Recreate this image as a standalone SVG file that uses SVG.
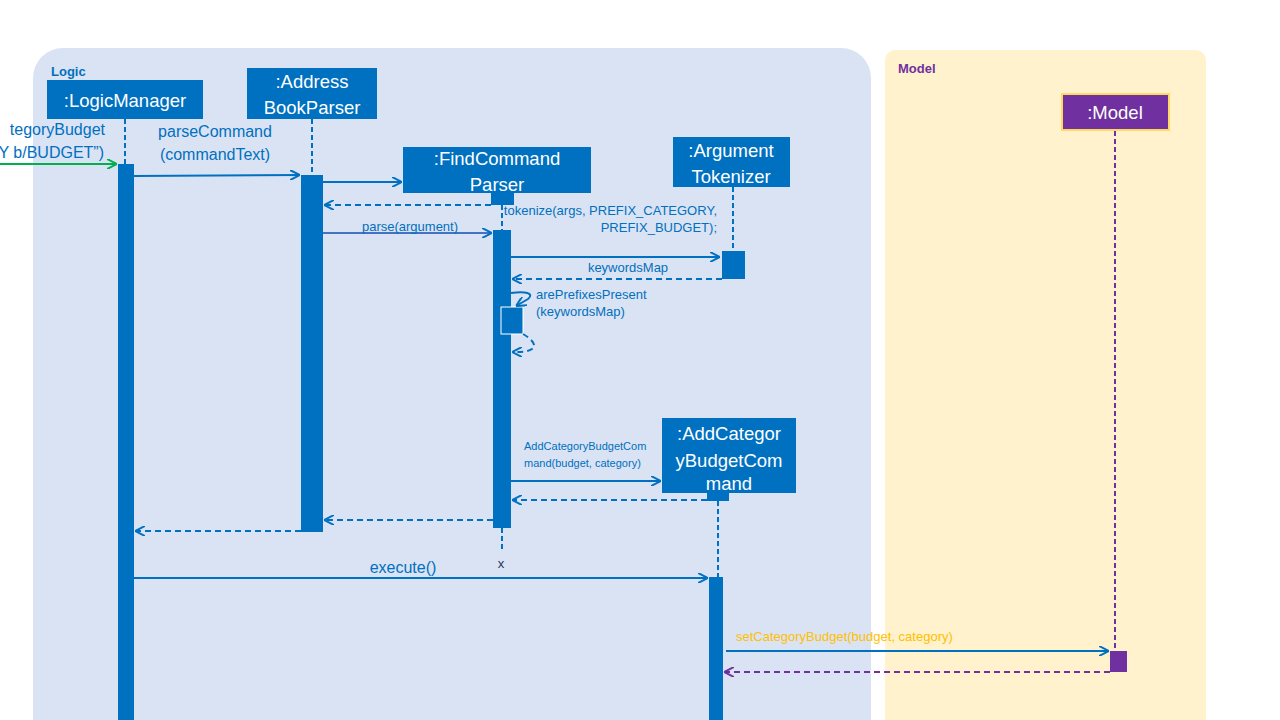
<svg xmlns="http://www.w3.org/2000/svg" width="1280" height="720" viewBox="0 0 1280 720">
<defs>
<style>
.box{fill:#0070c0}
.act{fill:#0070c0}
.bt{font-family:"Liberation Sans",Arial,sans-serif;font-size:18.5px;fill:#ffffff;text-anchor:middle}
.lbl{font-family:"Liberation Sans",Arial,sans-serif;fill:#0070c0}
.life{stroke:#0070c0;stroke-width:2;stroke-dasharray:5 3;fill:none}
.msg{stroke:#0070c0;stroke-width:2;fill:none}
.ret{stroke:#0070c0;stroke-width:2;stroke-dasharray:6 4;fill:none}
</style>
<marker id="ah" viewBox="0 0 10 10" refX="10" refY="5" markerWidth="10" markerHeight="10" markerUnits="userSpaceOnUse" orient="auto"><path d="M0,0 L10,5 L0,10" fill="none" stroke="#0070c0" stroke-width="2"/></marker>
<marker id="ahg" viewBox="0 0 10 10" refX="10" refY="5" markerWidth="10" markerHeight="10" markerUnits="userSpaceOnUse" orient="auto"><path d="M0,0 L10,5 L0,10" fill="none" stroke="#00b050" stroke-width="2"/></marker>
<marker id="ahp" viewBox="0 0 10 10" refX="10" refY="5" markerWidth="10" markerHeight="10" markerUnits="userSpaceOnUse" orient="auto"><path d="M0,0 L10,5 L0,10" fill="none" stroke="#7030a0" stroke-width="2"/></marker>
</defs>
<rect width="1280" height="720" fill="#ffffff"/>
<g id="logic-frame">
<rect x="33" y="48" width="838" height="700" rx="30" fill="#dae3f3"/>
<text x="51" y="76" font-family="Liberation Sans,Arial,sans-serif" font-size="13" font-weight="bold" fill="#0070c0">Logic</text>
</g>
<g id="model-frame">
<rect x="885" y="50" width="321" height="700" rx="10" fill="#fff2cc"/>
<text x="898" y="73" font-family="Liberation Sans,Arial,sans-serif" font-size="13" font-weight="bold" fill="#7030a0">Model</text>
</g>

<g id="LogicManager">
<rect class="box" x="47" y="80" width="156" height="39"/>
<text class="bt" x="125" y="107">:LogicManager</text>
<line class="life" x1="125" y1="119" x2="125" y2="164"/>
<rect class="act" x="118" y="164" width="16" height="560"/>
</g>
<g id="AddressBookParser">
<rect class="box" x="247" y="68" width="130" height="51"/>
<text class="bt" x="312" y="88">:Address</text>
<text class="bt" x="312" y="114">BookParser</text>
<line class="life" x1="312" y1="119" x2="312" y2="175"/>
<rect class="act" x="301" y="175" width="22" height="357"/>
</g>
<g id="FindCommandParser">
<rect class="box" x="403" y="147" width="188" height="46"/>
<text class="bt" x="497" y="165">:FindCommand</text>
<text class="bt" x="497" y="191">Parser</text>
<rect class="act" x="491" y="193" width="23" height="12"/>
<line class="life" x1="502" y1="205" x2="502" y2="230"/>
<rect class="act" x="493" y="230" width="18" height="298"/>
<line class="life" x1="502" y1="528" x2="502" y2="550"/>
<text x="501" y="568" font-family="Liberation Sans,Arial,sans-serif" font-size="13" fill="#1f3864" text-anchor="middle">x</text>
</g>
<g id="ArgumentTokenizer">
<rect class="box" x="673" y="137" width="117" height="50"/>
<text class="bt" x="731" y="157">:Argument</text>
<text class="bt" x="731" y="183">Tokenizer</text>
<line class="life" x1="733" y1="187" x2="733" y2="251"/>
<rect class="act" x="722" y="251" width="23" height="28"/>
</g>
<g id="SelfActivation">
<rect x="501" y="307" width="22" height="27" fill="#0070c0" stroke="#ffffff" stroke-width="1"/>
</g>
<g id="AddCategoryBudgetCommand">
<rect class="box" x="662" y="418" width="134" height="75"/>
<text class="bt" x="729" y="440">:AddCategor</text>
<text class="bt" x="729" y="467">yBudgetCom</text>
<text class="bt" x="729" y="490">mand</text>
<rect class="act" x="707" y="493" width="22" height="8"/>
<line class="life" x1="718" y1="501" x2="718" y2="577"/>
<rect class="act" x="709" y="577" width="14" height="147"/>
</g>
<g id="Model">
<rect x="1062" y="94" width="107" height="36" fill="#7030a0" stroke="#ffd966" stroke-width="2"/>
<text class="bt" x="1115" y="119">:Model</text>
<line x1="1115" y1="131" x2="1115" y2="651" stroke="#7030a0" stroke-width="2" stroke-dasharray="5 3"/>
<rect x="1110" y="651" width="17" height="21" fill="#7030a0"/>
</g>

<g id="connectors">
<line x1="0" y1="164" x2="117" y2="164" stroke="#00b050" stroke-width="2" marker-end="url(#ahg)"/>
<text class="lbl" font-size="16" x="105" y="135" text-anchor="end">tegoryBudget</text>
<text class="lbl" font-size="16" x="104" y="158" text-anchor="end">Y b/BUDGET”)</text>

<line class="msg" x1="134" y1="176" x2="300" y2="175" marker-end="url(#ah)"/>
<text class="lbl" font-size="16" x="215" y="137" text-anchor="middle">parseCommand</text>
<text class="lbl" font-size="16" x="215" y="160" text-anchor="middle">(commandText)</text>

<line class="msg" x1="323" y1="182" x2="402" y2="182" marker-end="url(#ah)"/>
<line class="ret" x1="491" y1="205" x2="324" y2="205" marker-end="url(#ah)"/>

<line x1="323" y1="233" x2="492" y2="233" stroke="#4472c4" stroke-width="2" marker-end="url(#ah)"/>
<text class="lbl" font-size="13" x="410" y="231" text-anchor="middle">parse(argument)</text>

<text class="lbl" font-size="13" x="717" y="215" text-anchor="end">tokenize(args, PREFIX_CATEGORY,</text>
<text class="lbl" font-size="13" x="717" y="232" text-anchor="end">PREFIX_BUDGET);</text>
<line class="msg" x1="511" y1="257" x2="720" y2="257" marker-end="url(#ah)"/>
<line class="ret" x1="722" y1="279" x2="512" y2="279" marker-end="url(#ah)"/>
<text class="lbl" font-size="13" x="628" y="272" text-anchor="middle">keywordsMap</text>

<path class="msg" d="M511,293 C525,291 535,293 528,299 L516,306" marker-end="url(#ah)"/>
<text class="lbl" font-size="13" x="536" y="299">arePrefixesPresent</text>
<text class="lbl" font-size="13" x="536" y="316">(keywordsMap)</text>
<path class="ret" d="M523,334 C530,338 538,345 532,349 C528,352 520,352 512,352" marker-end="url(#ah)"/>

<line class="msg" x1="511" y1="481" x2="661" y2="481" marker-end="url(#ah)"/>
<text class="lbl" font-size="11" x="524" y="450">AddCategoryBudgetCom</text>
<text class="lbl" font-size="11" x="524" y="467">mand(budget,  category)</text>
<line class="ret" x1="707" y1="500" x2="512" y2="500" marker-end="url(#ah)"/>

<line class="ret" x1="493" y1="520" x2="324" y2="520" marker-end="url(#ah)"/>
<line class="ret" x1="301" y1="531" x2="135" y2="531" marker-end="url(#ah)"/>

<line class="msg" x1="134" y1="578" x2="708" y2="578" marker-end="url(#ah)"/>
<text class="lbl" font-size="16" x="403" y="573" text-anchor="middle">execute()</text>

<line class="msg" x1="726" y1="651" x2="1109" y2="651" marker-end="url(#ah)"/>
<text font-family="Liberation Sans,Arial,sans-serif" font-size="13" fill="#ffc000" x="736" y="641">setCategoryBudget(budget, category)</text>
<line x1="1110" y1="672" x2="724" y2="672" stroke="#7030a0" stroke-width="2" stroke-dasharray="6 4" marker-end="url(#ahp)"/>
</g>
</svg>
